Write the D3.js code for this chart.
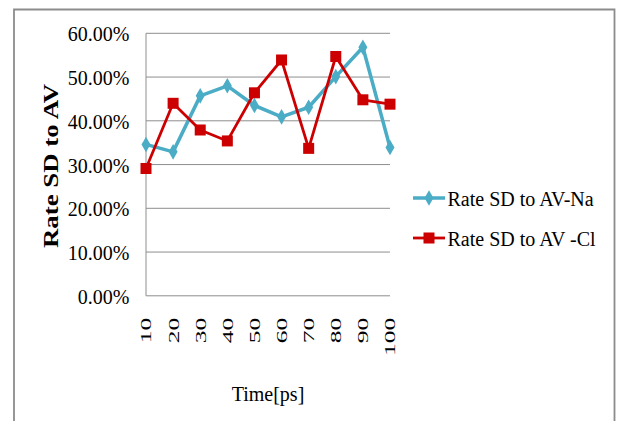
<!DOCTYPE html>
<html><head><meta charset="utf-8">
<script src="https://cdn.jsdelivr.net/npm/d3@7"></script>
<style>
html,body{margin:0;padding:0;background:#fff;}
svg{display:block;font-family:"Liberation Serif",serif;}
</style></head>
<body>
<svg id="chart" width="617" height="421"></svg>
<script>
const categories = [10,20,30,40,50,60,70,80,90,100];
const naValues = [0.346,0.329,0.457,0.480,0.435,0.409,0.431,0.501,0.568,0.339];
const clValues = [0.291,0.440,0.379,0.354,0.464,0.539,0.337,0.547,0.448,0.438];
const yTicks = [0,0.1,0.2,0.3,0.4,0.5,0.6];
const seriesNames = ["Rate SD to AV-Na","Rate SD to AV -Cl"];
const yTitle = "Rate SD to AV";
const xTitle = "Time[ps]";

const svg = d3.select("#chart");
const W=617,H=421;
const m={left:146,right:390,top:33.3,bottom:295.8};
const FONT="Liberation Serif";

// outer border
svg.append("path").attr("d",`M14,${H+2}V9.5H614.5V${H+2}`)
  .attr("fill","none").attr("stroke","#8c8c8c").attr("stroke-width",1.8);

const x = d3.scalePoint().domain(categories).range([m.left,m.right]);
const y = d3.scaleLinear().domain([0,0.6]).range([m.bottom,m.top]);

// gridlines
svg.append("g").selectAll("line").data(yTicks).join("line")
  .attr("x1",m.left).attr("x2",m.right)
  .attr("y1",d=>y(d)).attr("y2",d=>y(d))
  .attr("stroke","#8e8e8e").attr("stroke-width",1);
svg.append("line").attr("x1",m.left).attr("x2",m.left).attr("y1",m.top).attr("y2",m.bottom)
  .attr("stroke","#8e8e8e").attr("stroke-width",1);

// y axis labels
const yAxis = d3.axisLeft(y).tickValues(yTicks).tickFormat(d=>(d*100).toFixed(2)+"%").tickSize(0).tickPadding(16.7);
const gy = svg.append("g").attr("transform",`translate(${m.left},0)`).call(yAxis);
gy.select(".domain").remove();
gy.selectAll("text").attr("font-family",FONT).attr("font-size",20).attr("fill","#000").attr("dy","0.38em");

// x axis labels (stretched along reading direction)
const xAxis = d3.axisBottom(x).tickSize(0).tickPadding(0);
const gx = svg.append("g").attr("transform",`translate(0,${m.bottom})`).call(xAxis);
gx.select(".domain").remove();
gx.selectAll("text").attr("font-family",FONT).attr("font-size",15).attr("fill","#000")
  .attr("text-anchor","end").attr("dy","0.33em").attr("y",0)
  .attr("transform","translate(0,22) rotate(-90) scale(1.7,1)");

// titles
svg.append("text").attr("transform","translate(58,166) rotate(-90)")
  .attr("text-anchor","middle").attr("font-weight","bold").attr("font-size",22)
  .attr("textLength",164).attr("lengthAdjust","spacingAndGlyphs").text(yTitle);
svg.append("text").attr("x",(m.left+m.right)/2).attr("y",401)
  .attr("text-anchor","middle").attr("font-size",20).text(xTitle);

// series
const line = d3.line().x((d,i)=>x(categories[i])).y(d=>y(d));
svg.append("path").datum(naValues).attr("d",line).attr("fill","none")
  .attr("stroke","#4BACC6").attr("stroke-width",3.5).attr("stroke-linejoin","round");
svg.append("path").datum(clValues).attr("d",line).attr("fill","none")
  .attr("stroke","#CC0000").attr("stroke-width",2.8).attr("stroke-linejoin","round");

const diamond = d3.symbol().type(d3.symbolDiamond).size(70);
svg.append("g").selectAll("path").data(naValues).join("path")
  .attr("d",diamond).attr("transform",(d,i)=>`translate(${x(categories[i])},${y(d)})`)
  .attr("fill","#4BACC6");
svg.append("g").selectAll("rect").data(clValues).join("rect")
  .attr("x",(d,i)=>x(categories[i])-5.5).attr("y",d=>y(d)-5.5)
  .attr("width",11).attr("height",11).attr("fill","#CC0000");

// legend
const lg = svg.append("g");
const lx1=413,lx2=445;
[[198,"#4BACC6",3.5,"d"],[238,"#CC0000",2.8,"s"]].forEach((c,i)=>{
  lg.append("line").attr("x1",lx1).attr("x2",lx2).attr("y1",c[0]).attr("y2",c[0])
    .attr("stroke",c[1]).attr("stroke-width",c[2]);
  if(c[3]==="d") lg.append("path").attr("d",diamond).attr("transform",`translate(${(lx1+lx2)/2},${c[0]})`).attr("fill",c[1]);
  else lg.append("rect").attr("x",(lx1+lx2)/2-5.5).attr("y",c[0]-5.5).attr("width",11).attr("height",11).attr("fill",c[1]);
  lg.append("text").attr("x",447.5).attr("y",c[0]+7.5).attr("font-size",20).text(seriesNames[i]);
});
</script>
</body></html>
